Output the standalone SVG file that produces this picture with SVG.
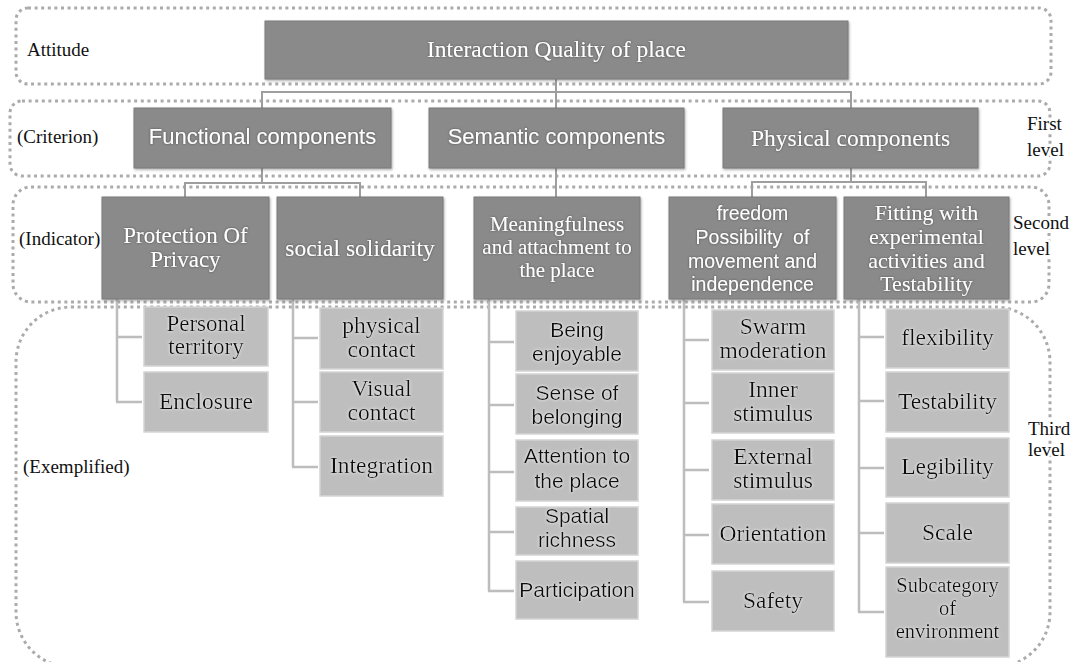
<svg xmlns="http://www.w3.org/2000/svg" width="1073" height="662" viewBox="0 0 1073 662">
<style>
.frame{fill:none;stroke:#ababab;stroke-width:3;stroke-dasharray:3 3.6}
.c1{fill:none;stroke:#9e9e9e;stroke-width:2}
.c3{fill:none;stroke:#bdbdbd;stroke-width:2.5}
.dk{fill:#8a8a8a;stroke:#7b7b7b;stroke-width:1;filter:url(#boxsh)}
.lt{fill:#bebebe;stroke:#d4d4d4;stroke-width:1.5}
.serif{font-family:"Liberation Serif","Times New Roman",serif}
.sans{font-family:"Liberation Sans",Arial,sans-serif}
.wt{fill:#ffffff;text-anchor:middle;filter:url(#glowDark)}
.bt{fill:#111111;text-anchor:middle;filter:url(#glowLight)}
.lab{fill:#111111;font-family:"Liberation Serif","Times New Roman",serif;font-size:19px}
.side{paint-order:stroke;stroke:#ffffff;stroke-width:5;stroke-linejoin:round}
</style>
<defs>
<filter id="boxsh" x="-5%" y="-10%" width="110%" height="125%"><feDropShadow dx="1" dy="1.5" stdDeviation="1.2" flood-color="#555555" flood-opacity="0.45"/></filter>
<filter id="glowDark" x="-10%" y="-30%" width="120%" height="160%"><feDropShadow dx="0" dy="0" stdDeviation="1.3" flood-color="#3a3a3a" flood-opacity="0.8"/></filter>
<filter id="glowLight" x="-10%" y="-30%" width="120%" height="160%"><feDropShadow dx="0" dy="0" stdDeviation="1.4" flood-color="#ffffff" flood-opacity="0.95"/></filter>
</defs>
<rect width="1073" height="662" fill="#ffffff"/>

<g id="frames">
<rect class="frame" x="16" y="8" width="1035" height="76" rx="12"/>
<rect class="frame" x="10" y="101" width="1040" height="75" rx="12"/>
<rect class="frame" x="13" y="187" width="1036" height="115" rx="18"/>
<rect class="frame" x="16" y="307" width="1034" height="360" rx="55"/>
</g>

<g id="connectors">
<path class="c1" d="M556 79V92M262 92H851M262 91V108M556 92V108M851 91V108"/>
<path class="c1" d="M262 168V183M185 183H360M185 182V197M360 182V197"/>
<path class="c1" d="M556 168V197"/>
<path class="c1" d="M851 168V182M752 182H926M752 181V197M926 181V197"/>
<path class="c3" d="M117 299V402M117 337H142M116 402H142"/>
<path class="c3" d="M293 299V467M293 338H318M293 402H318M292 467H318"/>
<path class="c3" d="M489 299V591M489 342H514M489 405H514M489 472H514M489 532H514M488 591H514"/>
<path class="c3" d="M684 299V602M684 340H709M684 403H709M684 470H709M684 535H709M683 602H709"/>
<path class="c3" d="M859 299V612M859 337H884M859 401H884M859 468H884M859 533H884M858 612H884"/>
</g>

<g id="labels">
<text class="lab" x="27" y="56" font-size="20">Attitude</text>
<text class="lab" x="17" y="143">(Criterion)</text>
<text class="lab" x="19" y="245">(Indicator)</text>
<text class="lab" x="23" y="473" font-size="20">(Exemplified)</text>
<text class="lab side" x="1027" y="130">First</text>
<text class="lab side" x="1027" y="156">level</text>
<text class="lab side" x="1013" y="229">Second</text>
<text class="lab side" x="1013" y="255">level</text>
<text class="lab side" x="1028" y="435" font-size="16">Third</text>
<text class="lab side" x="1028" y="456" font-size="16">level</text>
</g>

<g id="n-top">
<rect class="dk" x="265" y="21" width="583" height="58"/>
<text class="wt serif" x="556.5" y="57" font-size="23.5">Interaction Quality of place</text>
</g>

<g id="n-functional">
<rect class="dk" x="134" y="108" width="257" height="60"/>
<text class="wt sans" x="262.5" y="144" font-size="22">Functional components</text>
</g>
<g id="n-semantic">
<rect class="dk" x="429" y="108" width="255" height="60"/>
<text class="wt sans" x="556.5" y="144" font-size="22">Semantic components</text>
</g>
<g id="n-physical">
<rect class="dk" x="723" y="108" width="255" height="60"/>
<text class="wt serif" x="850.5" y="146" font-size="23.5">Physical components</text>
</g>

<g id="n-privacy">
<rect class="dk" x="102" y="197" width="167" height="102"/>
<text class="wt serif" font-size="23"><tspan x="185.5" y="243">Protection Of</tspan><tspan x="185.5" y="267">Privacy</tspan></text>
</g>
<g id="n-solidarity">
<rect class="dk" x="277" y="197" width="166" height="102"/>
<text class="wt serif" x="360" y="256" font-size="23.5">social solidarity</text>
</g>
<g id="n-meaning">
<rect class="dk" x="474" y="197" width="166" height="102"/>
<text class="wt serif" font-size="21"><tspan x="557" y="231">Meaningfulness</tspan><tspan x="557" y="254">and attachment to</tspan><tspan x="557" y="277">the place</tspan></text>
</g>
<g id="n-freedom">
<rect class="dk" x="669" y="197" width="167" height="102"/>
<text class="wt sans" font-size="19.5" style="white-space:pre"><tspan x="752.5" y="220">freedom</tspan><tspan x="752.5" y="244">Possibility  of</tspan><tspan x="752.5" y="268">movement and</tspan><tspan x="752.5" y="291">independence</tspan></text>
</g>
<g id="n-fitting">
<rect class="dk" x="844" y="197" width="165" height="102"/>
<text class="wt serif" font-size="22"><tspan x="926.5" y="220">Fitting with</tspan><tspan x="926.5" y="244">experimental</tspan><tspan x="926.5" y="268">activities and</tspan><tspan x="926.5" y="291">Testability</tspan></text>
</g>

<g id="n-personal-territory">
<rect class="lt" x="144" y="307" width="124" height="59"/>
<text class="bt serif" font-size="23"><tspan x="206" y="331">Personal</tspan><tspan x="206" y="354">territory</tspan></text>
</g>
<g id="n-enclosure">
<rect class="lt" x="144" y="372" width="124" height="60"/>
<text class="bt serif" x="206" y="409" font-size="23.5">Enclosure</text>
</g>

<g id="n-physical-contact">
<rect class="lt" x="320" y="308" width="123" height="61"/>
<text class="bt serif" font-size="23.5"><tspan x="381.5" y="333">physical</tspan><tspan x="381.5" y="357">contact</tspan></text>
</g>
<g id="n-visual-contact">
<rect class="lt" x="320" y="372" width="123" height="60"/>
<text class="bt serif" font-size="23.5"><tspan x="381.5" y="396">Visual</tspan><tspan x="381.5" y="420">contact</tspan></text>
</g>
<g id="n-integration">
<rect class="lt" x="320" y="436" width="123" height="60"/>
<text class="bt serif" x="381.5" y="473" font-size="23.5">Integration</text>
</g>

<g id="n-being-enjoyable">
<rect class="lt" x="516" y="311" width="122" height="60"/>
<text class="bt sans" font-size="21"><tspan x="577" y="337">Being</tspan><tspan x="577" y="361">enjoyable</tspan></text>
</g>
<g id="n-sense-of-belonging">
<rect class="lt" x="516" y="374" width="122" height="60"/>
<text class="bt sans" font-size="21"><tspan x="577" y="400">Sense of</tspan><tspan x="577" y="424">belonging</tspan></text>
</g>
<g id="n-attention">
<rect class="lt" x="516" y="440" width="122" height="61"/>
<text class="bt sans" font-size="21"><tspan x="577" y="463">Attention to</tspan><tspan x="577" y="488">the place</tspan></text>
</g>
<g id="n-spatial-richness">
<rect class="lt" x="516" y="507" width="122" height="48"/>
<text class="bt sans" font-size="21"><tspan x="577" y="523">Spatial</tspan><tspan x="577" y="547">richness</tspan></text>
</g>
<g id="n-participation">
<rect class="lt" x="516" y="561" width="122" height="58"/>
<text class="bt sans" x="577" y="597" font-size="21">Participation</text>
</g>

<g id="n-swarm-moderation">
<rect class="lt" x="712" y="310" width="122" height="60"/>
<text class="bt serif" font-size="23.5"><tspan x="773" y="334">Swarm</tspan><tspan x="773" y="358">moderation</tspan></text>
</g>
<g id="n-inner-stimulus">
<rect class="lt" x="712" y="373" width="122" height="60"/>
<text class="bt serif" font-size="23.5"><tspan x="773" y="397">Inner</tspan><tspan x="773" y="421">stimulus</tspan></text>
</g>
<g id="n-external-stimulus">
<rect class="lt" x="712" y="440" width="122" height="60"/>
<text class="bt serif" font-size="23.5"><tspan x="773" y="464">External</tspan><tspan x="773" y="488">stimulus</tspan></text>
</g>
<g id="n-orientation">
<rect class="lt" x="712" y="504" width="122" height="60"/>
<text class="bt serif" x="773" y="541" font-size="23.5">Orientation</text>
</g>
<g id="n-safety">
<rect class="lt" x="712" y="571" width="122" height="60"/>
<text class="bt serif" x="773" y="608" font-size="23.5">Safety</text>
</g>

<g id="n-flexibility">
<rect class="lt" x="886" y="309" width="123" height="59"/>
<text class="bt serif" x="947.5" y="345" font-size="23.5">flexibility</text>
</g>
<g id="n-testability">
<rect class="lt" x="886" y="372" width="123" height="60"/>
<text class="bt serif" x="947.5" y="409" font-size="23.5">Testability</text>
</g>
<g id="n-legibility">
<rect class="lt" x="886" y="438" width="123" height="59"/>
<text class="bt serif" x="947.5" y="474" font-size="23.5">Legibility</text>
</g>
<g id="n-scale">
<rect class="lt" x="886" y="503" width="123" height="60"/>
<text class="bt serif" x="947.5" y="540" font-size="23.5">Scale</text>
</g>
<g id="n-subcategory">
<rect class="lt" x="886" y="567" width="123" height="90"/>
<text class="bt serif" font-size="20.5"><tspan x="947.5" y="592">Subcategory</tspan><tspan x="947.5" y="615">of</tspan><tspan x="947.5" y="638">environment</tspan></text>
</g>
</svg>
